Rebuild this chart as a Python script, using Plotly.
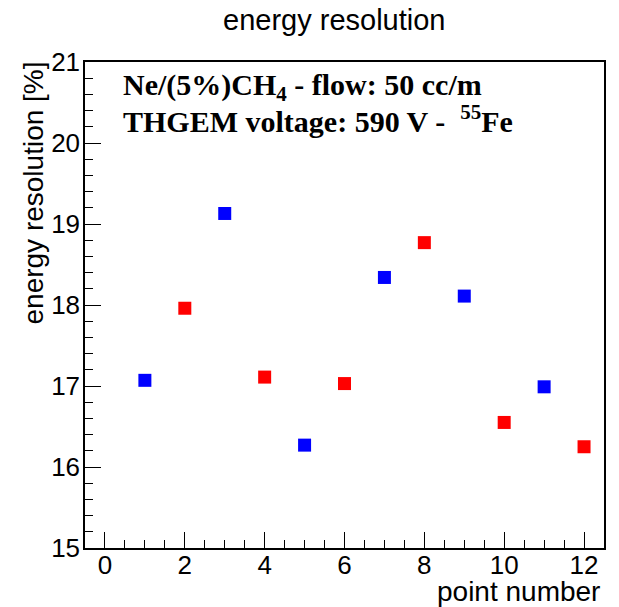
import plotly.graph_objects as go

blue_x = [1, 3, 5, 7, 9, 11]
blue_y = [17.07, 19.13, 16.27, 18.34, 18.11, 16.99]
red_x = [2, 4, 6, 8, 10, 12]
red_y = [17.96, 17.11, 17.03, 18.77, 16.55, 16.25]

L, R, T, B = 85, 15, 62, 59
W, H = 619, 607
PW, PH = W - L - R, H - T - B

fig = go.Figure()
fig.add_trace(go.Scatter(x=blue_x, y=blue_y, mode="markers",
                         marker=dict(symbol="square", size=13, color="#0000ff"), showlegend=False))
fig.add_trace(go.Scatter(x=red_x, y=red_y, mode="markers",
                         marker=dict(symbol="square", size=13, color="#ff0000"), showlegend=False))

axfont = dict(family="Liberation Sans, Arial", size=26, color="black")
fig.update_layout(
    width=W, height=H,
    margin=dict(l=L, r=R, t=T, b=B),
    paper_bgcolor="white", plot_bgcolor="white",
    xaxis=dict(range=[-0.5, 12.5], tickvals=[0, 2, 4, 6, 8, 10, 12], ticks="inside", ticklen=16,
               tickcolor="black", showline=True, linecolor="black", linewidth=1.5, mirror=True,
               showgrid=False, zeroline=False, tickfont=axfont, ticklabelstandoff=-7,
               minor=dict(tickvals=[-0.5, 0.5, 1, 1.5, 2.5, 3, 3.5, 4.5, 5, 5.5, 6.5, 7, 7.5, 8.5, 9, 9.5,
                                    10.5, 11, 11.5, 12.5],
                          ticks="inside", ticklen=8, tickcolor="black")),
    yaxis=dict(range=[15, 21], tickvals=[15, 16, 17, 18, 19, 20, 21], ticks="inside", ticklen=16,
               tickcolor="black", showline=True, linecolor="black", linewidth=1.5, mirror=True,
               showgrid=False, zeroline=False, tickfont=axfont, ticklabelstandoff=-2,
               minor=dict(dtick=0.2, ticks="inside", ticklen=8, tickcolor="black")),
)

sans = "Liberation Sans, Arial"
fig.add_annotation(text="energy resolution", xref="paper", yref="paper",
                   x=(221 - L) / PW, xanchor="left", y=1 + (T - 20) / PH, yanchor="middle",
                   showarrow=False, font=dict(family=sans, size=29, color="black"))
fig.add_annotation(text="energy resolution [%]", textangle=-90, xref="paper", yref="paper",
                   x=-(L - 33) / PW, xanchor="center", y=1 + (T - 60) / PH, yanchor="top", showarrow=False,
                   font=dict(family=sans, size=28, color="black"))
fig.add_annotation(text="point number", xref="paper", yref="paper", x=(602 - L) / PW, xanchor="right",
                   y=-(591 - (H - B)) / PH, yanchor="middle", showarrow=False,
                   font=dict(family=sans, size=28, color="black"))

tfont = dict(family="Liberation Serif, Times New Roman", size=30, color="black")
fig.add_annotation(text="<b>Ne/(5%)CH<sub>4</sub> - flow: 50 cc/m</b>", xref="paper", yref="paper",
                   x=(121 - L) / PW, xanchor="left", y=1 - (87 - T) / PH, yanchor="middle",
                   showarrow=False, font=tfont)
fig.add_annotation(text="<b>THGEM voltage: 590 V -  <sup>55</sup>Fe</b>", xref="paper", yref="paper",
                   x=(121 - L) / PW, xanchor="left", y=1 - (119 - T) / PH, yanchor="middle",
                   showarrow=False, font=tfont)

fig.write_html("out.html", config={"displayModeBar": False},
               post_script="document.body.style.margin='0px';")
